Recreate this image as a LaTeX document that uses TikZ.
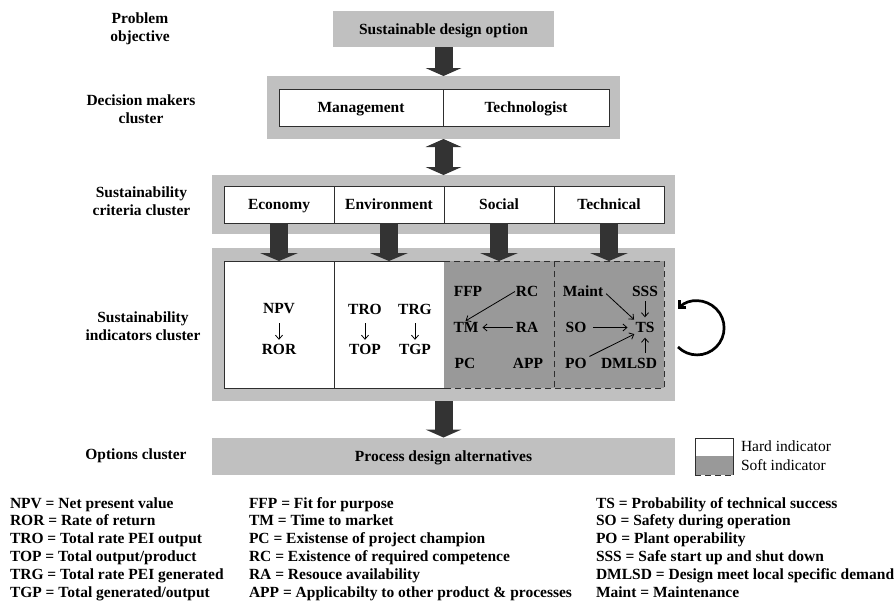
\documentclass[tikz,border=0pt]{standalone}
\usepackage{fontspec}
\setmainfont{Liberation Serif}
\usetikzlibrary{arrows.meta}
\definecolor{clgray}{HTML}{C0C0C0}
\definecolor{softgray}{HTML}{999999}
\definecolor{arrowc}{HTML}{333333}
\definecolor{edgec}{HTML}{2E2E2E}
\begin{document}
\begin{tikzpicture}[x=1pt,y=-1pt,
  every node/.style={font=\fontsize{15.5}{18}\selectfont\bfseries, inner sep=0pt, outer sep=0pt},
  cluster/.style={fill=clgray, draw=none, text height=10.5pt, text depth=0pt},
  cell/.style={fill=white, draw=edgec, line width=0.9pt, minimum width=110pt, minimum height=37pt, text height=10.5pt, text depth=0pt},
  hardcell/.style={cell, minimum height=127pt},
  softcell/.style={fill=softgray, draw=none, minimum width=110pt, minimum height=127pt},
  softedge/.style={draw=edgec, line width=0.9pt, dash pattern=on 6pt off 4pt},
  lbl/.style={align=center},
  thinarr/.style={draw=black, line width=0.8pt, -{Straight Barb[length=4pt,width=7pt]}},
  block/.style={draw=arrowc, line width=18pt, -{Triangle[width=36pt 0 0,length=8pt 0 0,line width=0pt 0 0]}},
  blockwide/.style={draw=arrowc, line width=18pt, -{Triangle[width=38pt 0 0,length=8pt 0 0,line width=0pt 0 0]}},
  blockboth/.style={draw=arrowc, line width=18pt, {Triangle[width=36pt 0 0,length=8pt 0 0,line width=0pt 0 0]}-{Triangle[width=36pt 0 0,length=8pt 0 0,line width=0pt 0 0]}},
  abbr/.style={anchor=base west},
  keytext/.style={anchor=west, font=\fontsize{15.5}{18}\selectfont\mdseries}
]
\useasboundingbox (0,0) rectangle (895,603);

% left labels
\node[lbl] (lProb) at (140,29) {Problem\\objective};
\node[lbl] (lDec) at (141,109) {Decision makers\\cluster};
\node[lbl] (lCrit) at (141.5,201) {Sustainability\\criteria cluster};
\node[lbl] (lInd) at (143,326) {Sustainability\\indicators cluster};
\node (lOpt) at (136,456) {Options cluster};

% problem objective
\node[cluster, minimum width=221pt, minimum height=36pt] (sdo) at (443.5,29) {Sustainable design option};

% decision makers
\node[cluster, minimum width=353pt, minimum height=63pt] (dec) at (443.5,107.5) {};
\node[cell, minimum width=164pt] (mgmt) at (361,107.5) {Management};
\node[cell, minimum width=166pt] (tech) at (526,107.5) {Technologist};

% criteria
\node[cluster, minimum width=463pt, minimum height=59pt] (crit) at (443.5,204.5) {};
\node[cell] (cEco) at (279,204.5) {Economy};
\node[cell] (cEnv) at (389,204.5) {Environment};
\node[cell] (cSoc) at (499,204.5) {Social};
\node[cell] (cTec) at (609,204.5) {Technical};

% indicators
\node[cluster, minimum width=463pt, minimum height=153pt] (indcl) at (443.5,324.5) {};
\node[hardcell] (iEco) at (279,324.5) {};
\node[hardcell] (iEnv) at (389,324.5) {};
\node[softcell] (iSoc) at (499,324.5) {};
\node[softcell] (iTec) at (609,324.5) {};
\draw[softedge] (iSoc.north west) -- (iTec.north east) -- (iTec.south east) -- (iSoc.south west);
\draw[softedge] (iTec.north west) -- (iTec.south west);

% options
\node[cluster, minimum width=463pt, minimum height=37pt] (opt) at (443.5,456) {Process design alternatives};

% block arrows
\draw[block] (sdo.south) -- (dec.north);
\draw[blockboth] (dec.south) -- (crit.north);
\draw[blockwide] (cEco.south) -- (iEco.north);
\draw[blockwide] (cEnv.south) -- (iEnv.north);
\draw[blockwide] (cSoc.south) -- (iSoc.north);
\draw[blockwide] (cTec.south) -- (iTec.north);
\draw[block] (indcl.south) -- (opt.north);

% economy indicators
\node (npv) at (279,309) {NPV};
\node (ror) at (279,349) {ROR};
\draw[thinarr, shorten <=9pt, shorten >=4pt] (npv) -- (ror);

% environment indicators
\node (tro) at (365,309) {TRO};
\node (nTOP) at (365,349) {TOP};
\node (trg) at (415,309) {TRG};
\node (tgp) at (415,349) {TGP};
\draw[thinarr, shorten <=9pt, shorten >=4pt] (tro) -- (nTOP);
\draw[thinarr, shorten <=9pt, shorten >=4pt] (trg) -- (tgp);

% social indicators
\node (ffp) at (468,291) {FFP};
\node (rc) at (527,291) {RC};
\node (tm) at (466,327.5) {TM};
\node (ra) at (527,327.5) {RA};
\node (pc) at (465,363) {PC};
\node (app) at (528,363) {APP};
\draw[thinarr, shorten <=1pt, shorten >=3pt] (rc.west) -- ([xshift=-3pt]tm.north);
\draw[thinarr, shorten <=3pt, shorten >=4pt] (ra.west) -- (tm.east);

% technical indicators
\node (maint) at (583,291) {Maint};
\node (sss) at (645,291) {SSS};
\node (so) at (576,327.5) {SO};
\node (ts) at (645,327.5) {TS};
\node (po) at (576,363) {PO};
\node (dmlsd) at (629,363) {DMLSD};
\draw[thinarr, shorten <=4pt, shorten >=4pt] (maint.east) -- ([xshift=-8pt]ts.north);
\draw[thinarr, shorten <=5pt, shorten >=5pt] (sss.south) -- (ts.north);
\draw[thinarr, shorten <=7pt, shorten >=8pt] (so.east) -- (ts.west);
\draw[thinarr, shorten <=3pt, shorten >=3pt] (po.north east) -- ([xshift=-8pt]ts.south);
\draw[thinarr, shorten <=5pt, shorten >=5pt] (dmlsd.north -| ts.south) -- (ts.south);

% feedback loop
\coordinate (loopS) at (678,347);
\draw[line width=2.7pt, -{Straight Barb[length=5pt,width=10pt]}] (loopS) arc[start angle=135, end angle=-135, radius=27];

% key
\node[fill=white, draw=edgec, line width=0.9pt, minimum width=38pt, minimum height=18pt] (hardkey) at (714,447) {};
\node[fill=softgray, minimum width=38pt, minimum height=19pt] (softkey) at (714,465.5) {};
\draw[draw=edgec, line width=0.9pt] (softkey.north west) -- (softkey.south west);
\draw[draw=edgec, line width=0.9pt] (softkey.north east) -- (softkey.south east);
\draw[softedge] (softkey.south west) -- (softkey.south east);
\node[keytext] (hardtxt) at (741,446) {Hard indicator};
\node[keytext] (softtxt) at (741,465) {Soft indicator};

% abbreviations
\node[abbr] (a1) at (10,508) {NPV = Net present value};
\node[abbr] (a2) at (10,525.8) {ROR = Rate of return};
\node[abbr] (a3) at (10,543.6) {TRO = Total rate PEI output};
\node[abbr] (a4) at (10,561.4) {TOP = Total output/product};
\node[abbr] (a5) at (10,579.2) {TRG = Total rate PEI generated};
\node[abbr] (a6) at (10,597) {TGP = Total generated/output};
\node[abbr] (b1) at (249,508) {FFP = Fit for purpose};
\node[abbr] (b2) at (249,525.8) {TM = Time to market};
\node[abbr] (b3) at (249,543.6) {PC = Existense of project champion};
\node[abbr] (b4) at (249,561.4) {RC = Existence of required competence};
\node[abbr] (b5) at (249,579.2) {RA = Resouce availability};
\node[abbr] (b6) at (249,597) {APP = Applicabilty to other product \& processes};
\node[abbr] (c1) at (596,508) {TS = Probability of technical success};
\node[abbr] (c2) at (596,525.8) {SO = Safety during operation};
\node[abbr] (c3) at (596,543.6) {PO = Plant operability};
\node[abbr] (c4) at (596,561.4) {SSS = Safe start up and shut down};
\node[abbr] (c5) at (596,579.2) {DMLSD = Design meet local specific demand};
\node[abbr] (c6) at (596,597) {Maint = Maintenance};
\end{tikzpicture}
\end{document}
